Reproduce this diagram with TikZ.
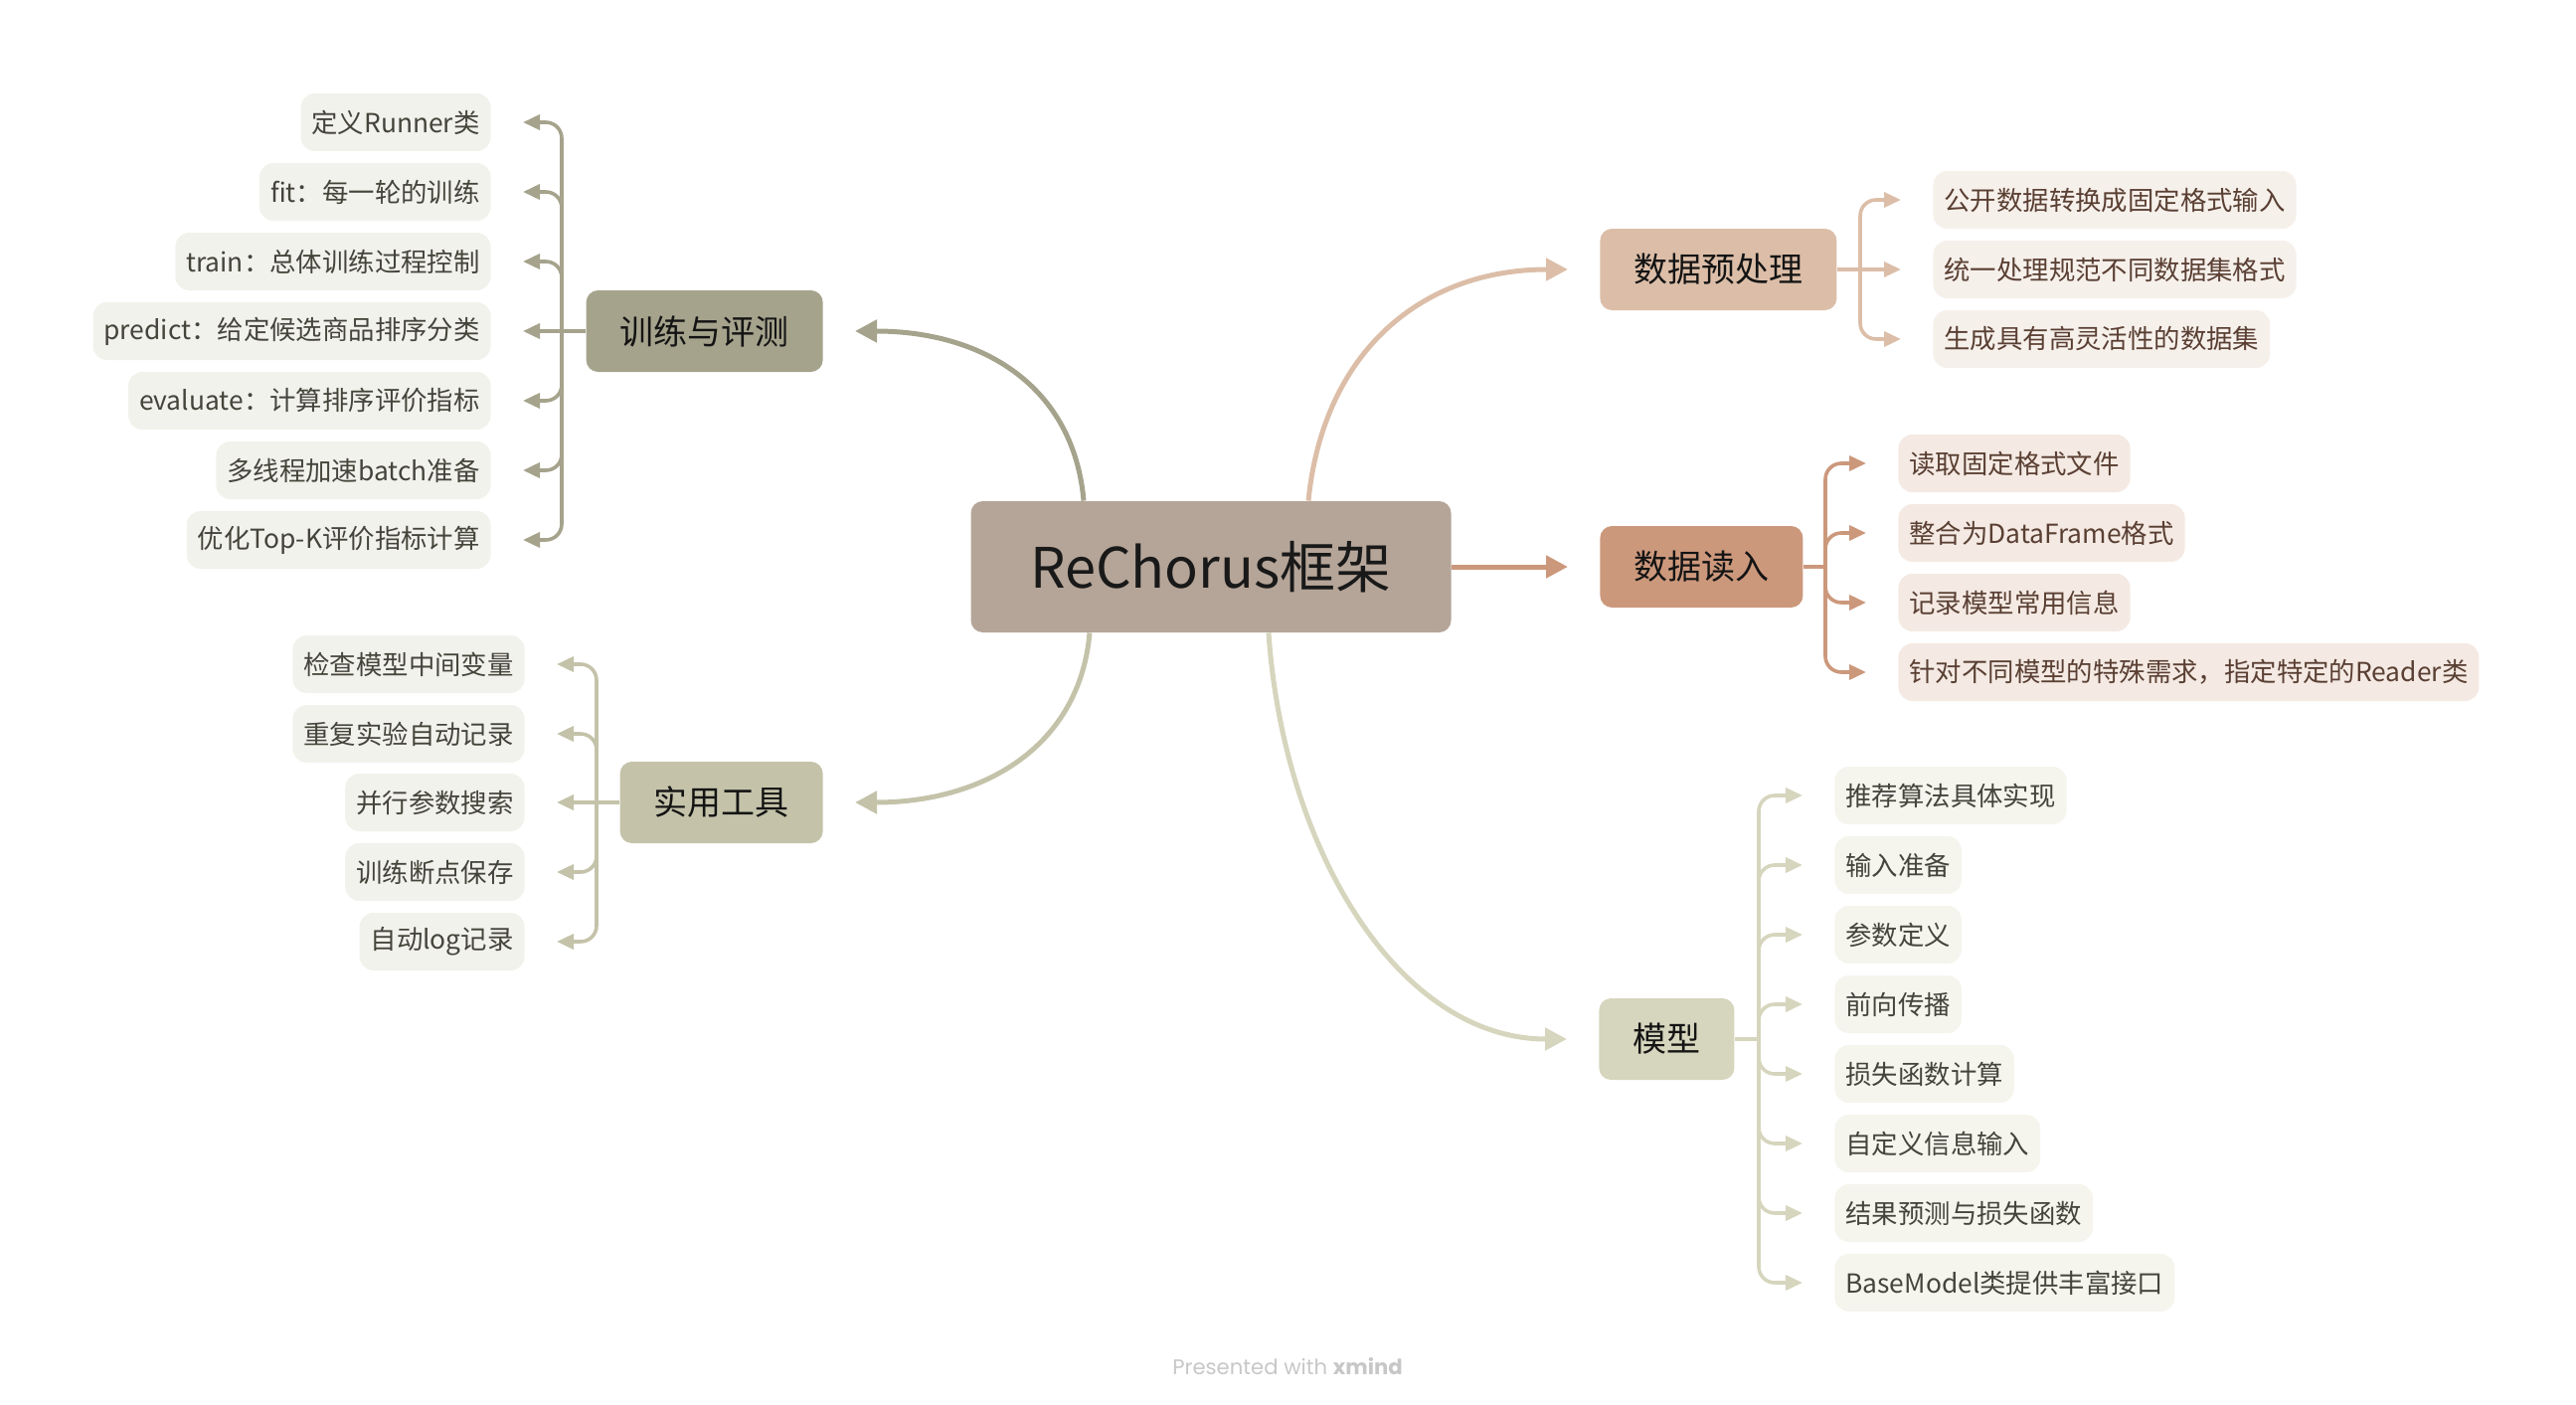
\documentclass[tikz,border=0pt]{standalone}
\usepackage{fontspec}
\setmainfont{Noto Sans CJK SC}
\newfontfamily\creditfont{Poppins}
\usetikzlibrary{arrows.meta}

\definecolor{rootfill}{HTML}{B5A598}
\definecolor{trainc}{HTML}{A5A38C}
\definecolor{toolc}{HTML}{C4C3AA}
\definecolor{prepc}{HTML}{DCBEA8}
\definecolor{readc}{HTML}{CC987C}
\definecolor{modelc}{HTML}{D6D5BD}
\definecolor{leafgrey}{HTML}{F2F2EC}
\definecolor{leafsand}{HTML}{F6F0EB}
\definecolor{leafrose}{HTML}{F4EAE3}
\definecolor{leafsage}{HTML}{F5F5EE}
\definecolor{inkgrey}{HTML}{44443B}
\definecolor{inkbrown}{HTML}{5A3F33}

\tikzset{
	topic/.style={rounded corners=6pt, inner xsep=17pt, minimum height=41pt, font=\fontsize{17pt}{20pt}\selectfont, text=black!92},
	leaf/.style={rounded corners=7pt, inner xsep=5.5pt, minimum height=29pt, font=\fontsize{13.2pt}{15pt}\selectfont},
	trunk/.style={line width=2.5pt, -{Triangle[length=11pt,width=11pt]}, shorten >=16pt},
	twig/.style={line width=1.8pt, rounded corners=8pt, -{Triangle[length=8.5pt,width=7.5pt]}, shorten >=16pt},
	stub/.style={line width=1.8pt}
}

\begin{document}
\begin{tikzpicture}[x=0.5pt, y=-0.5pt]
	%%%%% START %%%%%
	\useasboundingbox (0,0) rectangle (2591,1413);
	
	\node[fill=rootfill, rounded corners=6pt, minimum width=241.5pt, minimum height=66pt, font=\fontsize{28pt}{32pt}\selectfont, text=black!90] (root) at (1218,570) {ReChorus框架};
	
	\node[topic, fill=trainc, anchor=east] (train) at (828,333) {训练与评测};
	\node[topic, fill=toolc, anchor=east] (tools) at (828,807) {实用工具};
	\node[topic, fill=prepc, anchor=west] (prep) at (1609,271) {数据预处理};
	\node[topic, fill=readc, anchor=west] (read) at (1609,570) {数据读入};
	\node[topic, fill=modelc, anchor=west] (model) at (1608,1045) {模型};
	
	\coordinate (root-nw) at ([xshift=-64pt]root.north);
	\coordinate (root-ne) at ([xshift=49pt]root.north);
	\coordinate (root-sw) at ([xshift=-61pt]root.south);
	\coordinate (root-se) at ([xshift=29pt]root.south);
	
	\draw[trunk, trainc] (root-nw) .. controls +(-10,-114) and +(162,0) .. (train.east);
	\draw[trunk, toolc] (root-sw) .. controls +(-10,114) and +(162,0) .. (tools.east);
	\draw[trunk, prepc] (root-ne) .. controls +(15,-150) and +(-179,0) .. (prep.west);
	\draw[trunk, readc] (root) -- (read);
	\draw[trunk, modelc] (root-se) .. controls +(15,220) and +(-200,0) .. (model.west);
	
	% training and evaluation
	\node[leaf, fill=leafgrey, text=inkgrey, anchor=east] (train-1) at (494,123) {定义Runner类};
	\node[leaf, fill=leafgrey, text=inkgrey, anchor=east] (train-2) at (494,193) {fit：每一轮的训练};
	\node[leaf, fill=leafgrey, text=inkgrey, anchor=east] (train-3) at (494,263) {train：总体训练过程控制};
	\node[leaf, fill=leafgrey, text=inkgrey, anchor=east] (train-4) at (494,333) {predict：给定候选商品排序分类};
	\node[leaf, fill=leafgrey, text=inkgrey, anchor=east] (train-5) at (494,403) {evaluate：计算排序评价指标};
	\node[leaf, fill=leafgrey, text=inkgrey, anchor=east] (train-6) at (494,473) {多线程加速batch准备};
	\node[leaf, fill=leafgrey, text=inkgrey, anchor=east] (train-7) at (494,543) {优化Top-K评价指标计算};
	
	\coordinate (train-fork) at (565,333);
	\draw[stub, trainc] (train) -- (train-fork);
	\draw[twig, trainc] (train-fork) |- (train-1);
	\draw[twig, trainc] (train-fork) |- (train-2);
	\draw[twig, trainc] (train-fork) |- (train-3);
	\draw[twig, trainc] (train-fork) -- (train-4);
	\draw[twig, trainc] (train-fork) |- (train-5);
	\draw[twig, trainc] (train-fork) |- (train-6);
	\draw[twig, trainc] (train-fork) |- (train-7);
	
	% tools
	\node[leaf, fill=leafgrey, text=inkgrey, anchor=east] (tools-1) at (528,668) {检查模型中间变量};
	\node[leaf, fill=leafgrey, text=inkgrey, anchor=east] (tools-2) at (528,738) {重复实验自动记录};
	\node[leaf, fill=leafgrey, text=inkgrey, anchor=east] (tools-3) at (528,807) {并行参数搜索};
	\node[leaf, fill=leafgrey, text=inkgrey, anchor=east] (tools-4) at (528,877) {训练断点保存};
	\node[leaf, fill=leafgrey, text=inkgrey, anchor=east] (tools-5) at (528,947) {自动log记录};
	
	\coordinate (tools-fork) at (600,807);
	\draw[stub, toolc] (tools) -- (tools-fork);
	\draw[twig, toolc] (tools-fork) |- (tools-1);
	\draw[twig, toolc] (tools-fork) |- (tools-2);
	\draw[twig, toolc] (tools-fork) -- (tools-3);
	\draw[twig, toolc] (tools-fork) |- (tools-4);
	\draw[twig, toolc] (tools-fork) |- (tools-5);
	
	% preprocessing
	\node[leaf, fill=leafsand, text=inkbrown, anchor=west] (prep-1) at (1944,201) {公开数据转换成固定格式输入};
	\node[leaf, fill=leafsand, text=inkbrown, anchor=west] (prep-2) at (1944,271) {统一处理规范不同数据集格式};
	\node[leaf, fill=leafsand, text=inkbrown, anchor=west] (prep-3) at (1944,341) {生成具有高灵活性的数据集};
	
	\coordinate (prep-fork) at (1871,271);
	\draw[stub, prepc] (prep) -- (prep-fork);
	\draw[twig, prepc] (prep-fork) |- (prep-1);
	\draw[twig, prepc] (prep-fork) -- (prep-2);
	\draw[twig, prepc] (prep-fork) |- (prep-3);
	
	% reading
	\node[leaf, fill=leafrose, text=inkbrown, anchor=west] (read-1) at (1909,466) {读取固定格式文件};
	\node[leaf, fill=leafrose, text=inkbrown, anchor=west] (read-2) at (1909,536) {整合为DataFrame格式};
	\node[leaf, fill=leafrose, text=inkbrown, anchor=west] (read-3) at (1909,606) {记录模型常用信息};
	\node[leaf, fill=leafrose, text=inkbrown, anchor=west] (read-4) at (1909,676) {针对不同模型的特殊需求，指定特定的Reader类};
	
	\coordinate (read-fork) at (1836,570);
	\draw[stub, readc] (read) -- (read-fork);
	\draw[twig, readc] (read-fork) |- (read-1);
	\draw[twig, readc] (read-fork) |- (read-2);
	\draw[twig, readc] (read-fork) |- (read-3);
	\draw[twig, readc] (read-fork) |- (read-4);
	
	% model
	\node[leaf, fill=leafsage, text=inkgrey, anchor=west] (model-1) at (1845,800) {推荐算法具体实现};
	\node[leaf, fill=leafsage, text=inkgrey, anchor=west] (model-2) at (1845,870) {输入准备};
	\node[leaf, fill=leafsage, text=inkgrey, anchor=west] (model-3) at (1845,940) {参数定义};
	\node[leaf, fill=leafsage, text=inkgrey, anchor=west] (model-4) at (1845,1010) {前向传播};
	\node[leaf, fill=leafsage, text=inkgrey, anchor=west] (model-5) at (1845,1080) {损失函数计算};
	\node[leaf, fill=leafsage, text=inkgrey, anchor=west] (model-6) at (1845,1150) {自定义信息输入};
	\node[leaf, fill=leafsage, text=inkgrey, anchor=west] (model-7) at (1845,1220) {结果预测与损失函数};
	\node[leaf, fill=leafsage, text=inkgrey, anchor=west] (model-8) at (1845,1290) {BaseModel类提供丰富接口};
	
	\coordinate (model-fork) at (1769,1045);
	\draw[stub, modelc] (model) -- (model-fork);
	\draw[twig, modelc] (model-fork) |- (model-1);
	\draw[twig, modelc] (model-fork) |- (model-2);
	\draw[twig, modelc] (model-fork) |- (model-3);
	\draw[twig, modelc] (model-fork) |- (model-4);
	\draw[twig, modelc] (model-fork) |- (model-5);
	\draw[twig, modelc] (model-fork) |- (model-6);
	\draw[twig, modelc] (model-fork) |- (model-7);
	\draw[twig, modelc] (model-fork) |- (model-8);
	
	\node[font=\creditfont\fontsize{10.6pt}{12pt}\selectfont, text=black!22] (credit) at (1295,1374) {Presented with \textbf{xmind}};
	%%%%% END %%%%%
\end{tikzpicture}
\end{document}
